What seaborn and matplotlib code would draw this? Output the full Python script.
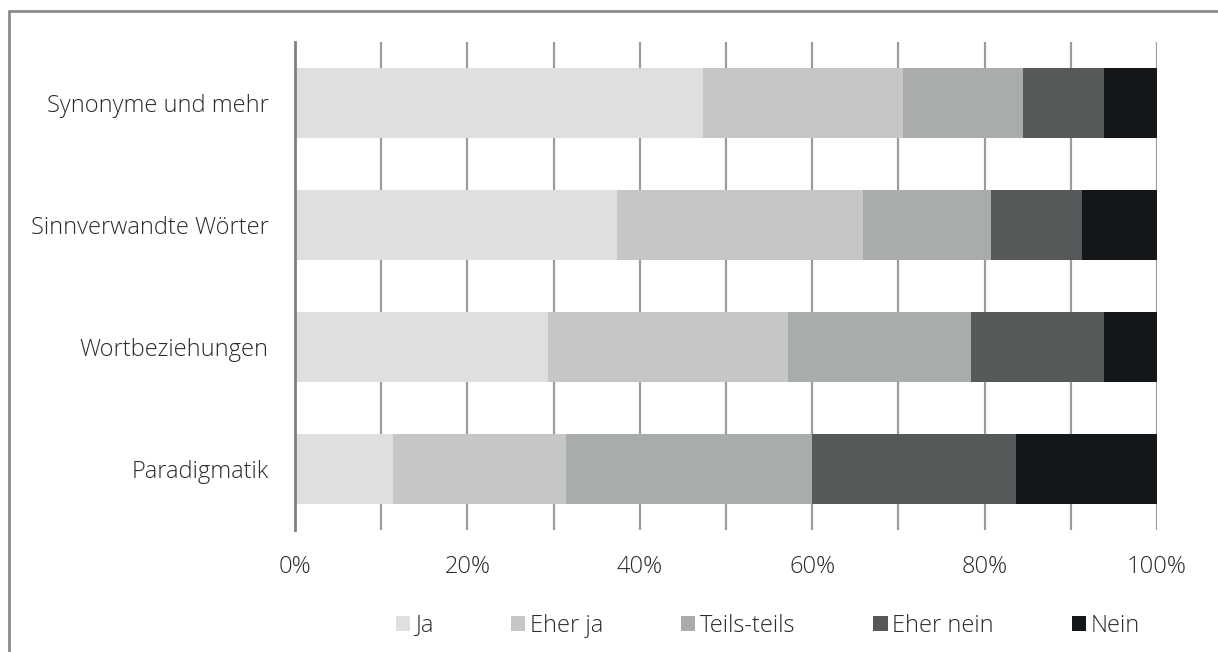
import matplotlib
matplotlib.use("Agg")
import matplotlib.pyplot as plt
from matplotlib.lines import Line2D
from matplotlib.patches import Patch
import numpy as np
import pandas as pd
import seaborn as sns

# Survey answers per category (percent of respondents)
categories = ["Synonyme und mehr", "Sinnverwandte Wörter", "Wortbeziehungen", "Paradigmatik"]
answers = ["Ja", "Eher ja", "Teils-teils", "Eher nein", "Nein"]
ja = [47.3, 37.4, 29.4, 11.4]
eher_ja = [23.2, 28.5, 27.8, 20.0]
teils = [14.0, 14.9, 21.2, 28.6]
eher_nein = [9.4, 10.5, 15.5, 23.6]
nein = [6.1, 8.7, 6.1, 16.4]
colors = ["#dfe0de", "#c6c6c6", "#a9acac", "#555959", "#141719"]
xtick_labels = ["0%", "20%", "40%", "60%", "80%", "100%"]

sns.set_theme(style="white")
plt.rcParams["font.family"] = ["Open Sans", "DejaVu Sans"]
plt.rcParams["font.weight"] = "light"
text_color = "#2b2b2b"
fs = 17

series = [ja, eher_ja, teils, eher_nein, nein]
cum = np.cumsum(np.array(series), axis=0)

fig = plt.figure(figsize=(12.18, 6.52), dpi=100)
ax = fig.add_axes([295 / 1218, 1 - 530 / 652, (1157 - 295) / 1218, (530 - 42) / 652])

# Stacked bars: draw the cumulative totals from the outermost segment inwards
for i in range(len(answers) - 1, -1, -1):
    df = pd.DataFrame({"Kategorie": categories, "Wert": cum[i]})
    sns.barplot(data=df, x="Wert", y="Kategorie", orient="h", color=colors[i],
                width=0.57, linewidth=0, saturation=1, ax=ax, zorder=3)

ax.set_xlim(0, 100)
ax.set_ylim(3.5, -0.5)
ax.set_xticks(np.arange(0, 101, 20))
ax.set_xticklabels(xtick_labels)
ax.set_xticks(np.arange(0, 101, 10), minor=True)
ax.grid(axis="x", which="both", color="#9c9c9c", linewidth=1.6, zorder=1)
ax.set_axisbelow(True)
ax.tick_params(axis="x", which="both", length=0, pad=18, labelsize=fs, colors=text_color)
ax.tick_params(axis="y", length=0, pad=19, labelsize=fs, colors=text_color)
ax.set_xlabel("")
ax.set_ylabel("")
for s in ["top", "right", "bottom"]:
    ax.spines[s].set_visible(False)
ax.spines["left"].set_color("#808080")
ax.spines["left"].set_linewidth(2)
ax.spines["left"].set_zorder(4)

handles = [Patch(facecolor=c, edgecolor="none") for c in colors]
leg = fig.legend(handles, answers, loc="center", bbox_to_anchor=(768 / 1218, 1 - 626 / 652),
                 ncol=5, frameon=False, fontsize=fs, handlelength=0.6, handleheight=0.6,
                 handletextpad=0.2, columnspacing=3.3, labelcolor=text_color)

# Frame lines along the top and left edges
fig.add_artist(Line2D([9 / 1218, 1.0], [1 - 11 / 652, 1 - 11 / 652], transform=fig.transFigure,
                      color="#8c8c8c", linewidth=2))
fig.add_artist(Line2D([9 / 1218, 9 / 1218], [1 - 11 / 652, 0.0], transform=fig.transFigure,
                      color="#8c8c8c", linewidth=2))

fig.savefig("out.png", dpi=100, facecolor="white")
